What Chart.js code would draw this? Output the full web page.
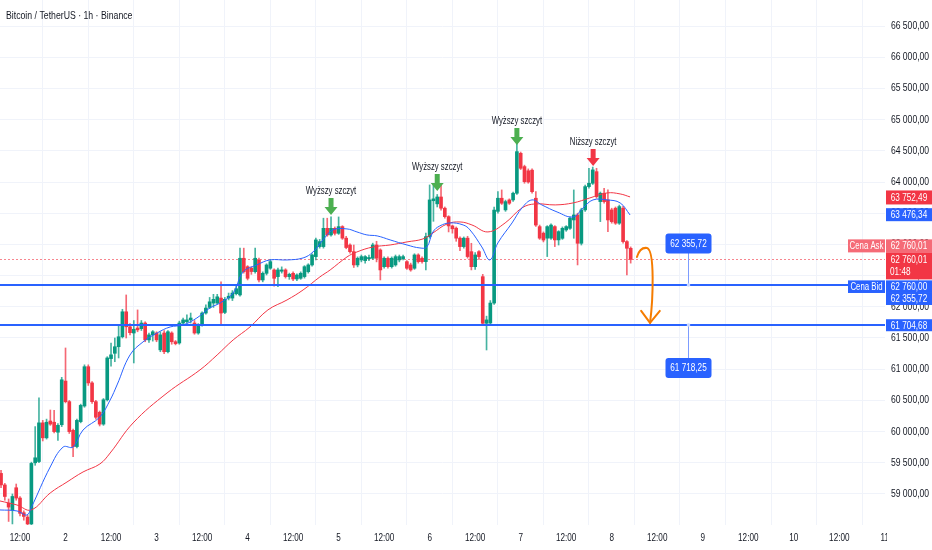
<!DOCTYPE html>
<html lang="pl">
<head>
<meta charset="utf-8">
<title>Bitcoin / TetherUS 1h</title>
<script src="https://cdn.jsdelivr.net/npm/chart.js@4.4.1/dist/chart.umd.min.js"></script>
<style>
  html, body { margin: 0; padding: 0; background: #ffffff; }
  #chart { display: block; }
</style>
</head>
<body>
<canvas id="chart" width="932" height="550"></canvas>
<script>
// Candles: one per hour, first one on day 1 at 07:00 (hours counted from day 1, 00:00)
const startHour = 7;

const opens = [
  59330, 59145, 58850, 58740, 59100, 58935, 58700, 58630, 58520, 59500,
  59520, 60140, 59900, 60170, 60150, 59990, 60110, 60810, 60480, 60020,
  59760, 60160, 60410, 61040, 60780, 60480, 60310, 60120, 60510, 61170,
  61255, 61360, 61520, 61920, 61680, 61580, 61660, 61650, 61740, 61470,
  61550, 61580, 61310, 61580, 61280, 61580, 61440, 61420, 61740, 61760,
  61790, 61740, 61580, 61710, 61900, 61990, 62060, 62060, 62140, 61910,
  62140, 62140, 62210, 62190, 62778, 62643, 62620, 62563, 62751, 62430,
  62537, 62618, 62591, 62484, 62570, 62591, 62484, 62537, 62446, 62457, 62484,
  62563, 62671, 62804, 62965, 62965, 63258, 63152, 63258, 63178, 63285,
  63100, 62990, 62884, 62671, 62751, 62740, 62770, 62778, 62991, 62911,
  62643, 62778, 62643, 62671, 62751, 62770, 62724, 62671, 62618, 62831,
  62778, 62724, 63125, 63700, 63650, 63760, 63580, 63445, 63296, 63260,
  63100, 62965, 63100, 62884, 62643, 62884, 62483, 61736, 61740, 62060,
  63530, 63740, 63553, 63713, 63713, 63820, 64460, 64247, 64180, 64190,
  63740, 63285, 63180, 63100, 63100, 63285, 63072, 63098, 63232, 63258,
  63392, 63472, 63018, 63553, 63926, 63980, 64166, 63686, 63820, 63713,
  63553, 63580, 63340, 63580, 63045, 62938
];
const highs = [
  59380, 59170, 58920, 59000, 59160, 58960, 58730, 58660, 59510, 60080,
  60540, 60180, 60200, 60346, 60340, 60130, 60870, 61340, 60500, 60040,
  60200, 60440, 61070, 61070, 60800, 60500, 60330, 60530, 61200, 61420,
  61500, 61700, 61960, 62190, 61730, 61780, 61950, 61780, 61760, 61580,
  61620, 61600, 61600, 61620, 61620, 61600, 61460, 61770, 61820, 61870,
  61900, 61780, 61730, 61920, 62030, 62150, 62200, 62200, 62400, 62150,
  62220, 62260, 62330, 62940, 62940, 62660, 62640, 62940, 62780, 62560,
  62690, 62760, 62610, 62620, 62640, 62610, 62540, 62560, 62530, 62560, 62660,
  62690, 62850, 63100, 63080, 63420, 63420, 63440, 63280, 63440, 63300,
  63130, 63010, 62990, 62800, 62830, 62820, 62830, 63020, 63050, 62930,
  62800, 62800, 62800, 62830, 62830, 62830, 62740, 62700, 62850, 62850,
  62800, 63180, 63953, 63950, 63800, 63950, 63600, 63460, 63310, 63280,
  63120, 63120, 63130, 63018, 62870, 62900, 62520, 61850, 62100, 63600,
  63846, 63873, 63710, 63730, 63840, 64650, 64480, 64270, 64210, 64210,
  63846, 63310, 63200, 63300, 63330, 63300, 63220, 63280, 63300, 63440,
  63873, 63500, 63580, 63950, 64220, 64240, 64220, 63840, 63900, 63873,
  63580, 63600, 63630, 63610, 63060, 62960
];
const lows = [
  59100, 58900, 58560, 58520, 58900, 58650, 58580, 58480, 58500, 59460,
  59500, 59850, 59880, 60100, 59980, 59860, 60080, 60460, 59970, 59600,
  59740, 60140, 60390, 60740, 60450, 60200, 60090, 60100, 60490, 61050,
  61120, 61180, 61500, 61500, 61550, 61100, 61600, 61620, 61440, 61430,
  61450, 61440, 61280, 61250, 61260, 61400, 61390, 61400, 61720, 61740,
  61740, 61560, 61560, 61690, 61880, 61970, 61990, 62040, 61709, 61890,
  62110, 62100, 62190, 62170, 62540, 62430, 62520, 62540, 62400, 62400,
  62510, 62600, 62330, 62324, 62540, 62460, 62440, 62420, 62420, 62440, 62460,
  62540, 62650, 62750, 62940, 62940, 63130, 63130, 63150, 63160, 63080,
  62930, 62860, 62630, 62640, 62720, 62700, 62740, 62760, 62720, 62430,
  62620, 62620, 62620, 62650, 62720, 62750, 62600, 62570, 62600, 62700,
  62700, 62591, 63100, 63370, 63600, 63550, 63420, 63200, 63180, 63050,
  62900, 62940, 62780, 62591, 62600, 62760, 61700, 61308, 61700, 62040,
  63500, 63640, 63530, 63640, 63690, 63800, 64200, 63980, 63980, 63820,
  63290, 63080, 63040, 62805, 63080, 62965, 62990, 63080, 63210, 63240,
  63098, 62671, 62990, 63530, 63900, 63960, 63740, 63365, 63660, 63205,
  63340, 63320, 63320, 63020, 62510, 62700
];
const closes = [
  59145, 58960, 58790, 58960, 58935, 58690, 58640, 58520, 59490, 59580,
  60140, 59900, 60150, 60120, 60000, 60100, 60830, 60480, 60000, 59760,
  60180, 60420, 61040, 60780, 60480, 60230, 60120, 60510, 61180, 61230,
  61360, 61520, 61920, 61680, 61585, 61640, 61630, 61740, 61470, 61550,
  61600, 61470, 61550, 61280, 61600, 61440, 61410, 61740, 61790, 61790,
  61820, 61580, 61710, 61900, 61980, 62080, 62120, 62160, 61900, 62120,
  62170, 62220, 62290, 62778, 62563, 62457, 62565, 62778, 62430, 62537,
  62671, 62724, 62457, 62591, 62591, 62484, 62520, 62446, 62510, 62537, 62643,
  62671, 62831, 63072, 63045, 63258, 63152, 63258, 63178, 63285, 63100,
  62950, 62884, 62671, 62778, 62804, 62804, 62790, 62991, 62778, 62591,
  62778, 62643, 62778, 62804, 62804, 62804, 62618, 62591, 62831, 62724,
  62724, 63125, 63713, 63730, 63760, 63580, 63445, 63296, 63250, 63100,
  62965, 63100, 62805, 62643, 62831, 62804, 61736, 61790, 62060, 63550,
  63740, 63660, 63686, 63660, 63820, 64487, 64220, 64006, 64000, 63845,
  63310, 63100, 63070, 63285, 63310, 63072, 63205, 63258, 63285, 63419,
  63472, 63018, 63553, 63926, 63980, 64194, 63766, 63820, 63686, 63392,
  63365, 63340, 63606, 63045, 62938, 62760
];

// Moving averages (hour, price)
const fastMaHours = [6.72, 11.19, 13.81, 14.92, 19.96, 23.38, 26.0, 28.62, 33.05, 35.77, 37.58, 41.0, 44.43,
  48.16, 51.58, 55.0, 58.63, 62.05, 64.77, 68.2, 70.82, 74.44, 77.87, 82.4, 86.63, 89.25, 91.86, 94.48, 98.21,
  100.83, 103.45, 106.17, 109.59, 114.02, 117.45, 119.26, 120.87, 122.68, 125.4, 128.83, 130.64, 133.76,
  135.88, 137.99, 141.72, 144.34, 146.96, 149.57, 153.6, 157.83, 160.45, 163.07, 166.8, 170.22, 172.84];
const fastMaValues = [58744, 58728, 58663, 58776, 59433, 59753, 59753, 60026, 60234, 60507, 60747, 61228, 61437,
  61581, 61677, 61709, 61821, 61982, 62062, 62222, 62559, 62671, 62751, 62751, 62783, 62879, 63072, 63232, 63248,
  63200, 63152, 63136, 63072, 62991, 62943, 62959, 63200, 63296, 63344, 63312, 63232, 62959, 62751, 63024, 63344,
  63585, 63713, 63633, 63520, 63440, 63585, 63713, 63713, 63665, 63472];
const slowMaHours = [6.72, 11.19, 14.92, 19.96, 24.39, 28.62, 33.05, 35.77, 41.81, 50.77, 59.44, 63.97, 68.2,
  72.63, 77.36, 82.4, 86.63, 91.06, 93.78, 98.21, 100.83, 105.06, 109.59, 114.02, 118.25, 120.87, 124.6, 128.02,
  131.14, 135.37, 139.9, 144.34, 147.76, 153.1, 157.83, 162.26, 166.8, 170.22, 172.84];
const slowMaValues = [58888, 58824, 58744, 59016, 59192, 59353, 59481, 59657, 60138, 60619, 60988, 61228, 61469,
  61677, 61950, 62110, 62270, 62479, 62591, 62799, 62879, 62959, 62991, 63040, 63088, 63184, 63328, 63360, 63312,
  63200, 63344, 63585, 63649, 63633, 63665, 63745, 63825, 63809, 63761];

// Axis ticks
const timeTicks = [12, 24, 36, 48, 60, 72, 84, 96, 108, 120, 132, 144, 156, 168, 180, 192, 204, 216, 228, 240];
const priceTicks = [59000, 59500, 60000, 60500, 61000, 61500, 62000, 62500, 63000, 63500, 64000, 64500, 65000, 65500, 66000, 66500];

// Price levels and labels
const titleText = 'Bitcoin / TetherUS · 1h · Binance';
const lastFastMa = 63476.34;
const lastSlowMa = 63752.49;
const askPrice = 62760.01;
const bidPrice = 62760.00;
const countdown = '01:48';
const levelPrices = [62355.72, 61704.68];
const peakTexts = ['Wyższy szczyt', 'Wyższy szczyt', 'Wyższy szczyt', 'Niższy szczyt'];
const peakHours = [94.0, 122.0, 143.0, 163.1];
const peakPrices = [63470, 63857, 64594, 64258];
const peakIsHigher = [true, true, true, false];
const noteHour = 188.1;
const noteValues = [62355.72, 61718.25];
const noteBoxPrices = [63016, 61020];
const noteLinePrices = [62355.72, 61704.68];
// orange curved arrow path (hour, price)
const curveHours = [174.65, 175.46, 177.29, 179.41, 178.9, 178.1];
const curvePrices = [62799, 62959, 62943, 62911, 62110, 61741];
const curveWingHours = [175.76, 180.69];
const curveWingPrice = 61934;

const UP = '#089981';
const DOWN = '#f23645';
const BLUE = '#2962ff';
const TEXT = '#131722';
const GRID = '#f0f3fa';
const FONT = '"Liberation Sans", Arial, sans-serif';

// Draw narrow text (the screenshot is horizontally compressed)
function squeezedText(ctx, str, x, y, size, color, align, squeeze) {
  ctx.save();
  ctx.font = size + 'px ' + FONT;
  ctx.fillStyle = color;
  ctx.textBaseline = 'middle';
  ctx.textAlign = align || 'left';
  ctx.translate(x, y);
  ctx.scale(squeeze || 0.8, 1);
  ctx.fillText(str, 0, 0);
  ctx.restore();
}

function formatPrice(v) {
  const parts = v.toFixed(2).split('.');
  return parts[0].replace(/\B(?=(\d{3})+(?!\d))/g, ' ') + ',' + parts[1];
}

function axisTag(ctx, left, top, width, height, fill, text, size) {
  ctx.fillStyle = fill;
  ctx.fillRect(left, top, width, height);
  squeezedText(ctx, text, left + width / 2, top + height / 2 + 0.5, size || 10.5, '#ffffff', 'center', 0.78);
}

function downArrow(ctx, cx, tipY, color) {
  ctx.fillStyle = color;
  ctx.beginPath();
  ctx.moveTo(cx - 2.5, tipY - 17);
  ctx.lineTo(cx + 2.5, tipY - 17);
  ctx.lineTo(cx + 2.5, tipY - 8);
  ctx.lineTo(cx + 6.5, tipY - 8);
  ctx.lineTo(cx, tipY);
  ctx.lineTo(cx - 6.5, tipY - 8);
  ctx.lineTo(cx - 2.5, tipY - 8);
  ctx.closePath();
  ctx.fill();
}

const candleColors = closes.map((c, i) => (c >= opens[i] ? UP : DOWN));
const wickColors = closes.map((c, i) => (c >= opens[i] ? 'rgba(8,153,129,0.75)' : 'rgba(242,54,69,0.75)'));

const overlay = {
  id: 'overlay',
  beforeDatasetsDraw(chart) {
    const { ctx, chartArea: a, scales: { y } } = chart;
    const py = Math.round(y.getPixelForValue(askPrice)) + 0.5;
    ctx.save();
    ctx.strokeStyle = 'rgba(242,54,69,0.6)';
    ctx.lineWidth = 1;
    ctx.setLineDash([2, 2]);
    ctx.beginPath();
    ctx.moveTo(a.left, py);
    ctx.lineTo(a.right, py);
    ctx.stroke();
    ctx.restore();
  },
  afterDatasetsDraw(chart) {
    const { ctx, chartArea: a, scales: { y } } = chart;
    ctx.save();
    ctx.strokeStyle = BLUE;
    ctx.lineWidth = 2;
    levelPrices.forEach(p => {
      const py = Math.round(y.getPixelForValue(p));
      ctx.beginPath();
      ctx.moveTo(a.left, py);
      ctx.lineTo(a.right, py);
      ctx.stroke();
    });
    ctx.restore();
  },
  afterDraw(chart) {
    const { ctx, chartArea: a, scales: { x, y } } = chart;
    const axisLeft = a.right + 1;
    const axisW = chart.width - axisLeft;
    const axisMid = axisLeft + axisW / 2;

    // title
    squeezedText(ctx, titleText, 6, 16, 10.5, TEXT, 'left', 0.83);

    // price axis labels
    y.ticks.forEach(t => {
      const py = y.getPixelForValue(t.value);
      if (py < 6 || py > a.bottom - 6) return;
      squeezedText(ctx, formatPrice(t.value), axisMid + 1, py, 11, TEXT, 'center', 0.78);
    });

    // time axis labels
    ctx.save();
    ctx.beginPath();
    ctx.rect(0, a.bottom, a.right + 2, chart.height - a.bottom);
    ctx.clip();
    timeTicks.forEach(h => {
      const px = x.getPixelForValue(h);
      const label = h % 24 === 12 ? '12:00' : String(h / 24 + 1);
      squeezedText(ctx, label, px, a.bottom + 13, 11, TEXT, 'center', 0.74);
    });
    ctx.restore();

    // peaks
    peakTexts.forEach((txt, i) => {
      const px = x.getPixelForValue(peakHours[i]);
      const py = y.getPixelForValue(peakPrices[i]);
      downArrow(ctx, px, py, peakIsHigher[i] ? '#4caf50' : DOWN);
      squeezedText(ctx, txt, px, py - 24, 10.5, TEXT, 'center', 0.74);
    });

    // orange projection arrow
    const cp = curveHours.map((h, i) => [x.getPixelForValue(h), y.getPixelForValue(curvePrices[i])]);
    ctx.save();
    ctx.strokeStyle = '#f57c00';
    ctx.lineWidth = 2;
    ctx.lineCap = 'round';
    ctx.lineJoin = 'round';
    ctx.beginPath();
    ctx.moveTo(cp[0][0], cp[0][1]);
    ctx.quadraticCurveTo(cp[1][0], cp[1][1], cp[2][0], cp[2][1]);
    ctx.bezierCurveTo(cp[3][0], cp[3][1], cp[4][0], cp[4][1], cp[5][0], cp[5][1]);
    ctx.stroke();
    const wy = y.getPixelForValue(curveWingPrice);
    ctx.beginPath();
    ctx.moveTo(x.getPixelForValue(curveWingHours[0]), wy);
    ctx.lineTo(cp[5][0], cp[5][1]);
    ctx.lineTo(x.getPixelForValue(curveWingHours[1]), wy);
    ctx.stroke();
    ctx.restore();

    // price notes
    const nx = Math.round(x.getPixelForValue(noteHour)) + 0.5;
    noteValues.forEach((v, i) => {
      const by = y.getPixelForValue(noteBoxPrices[i]);
      const ly = y.getPixelForValue(noteLinePrices[i]);
      ctx.save();
      ctx.strokeStyle = '#7d9cff';
      ctx.lineWidth = 1;
      ctx.beginPath();
      ctx.moveTo(nx, by);
      ctx.lineTo(nx, ly);
      ctx.stroke();
      ctx.fillStyle = '#c7d5ff';
      ctx.beginPath();
      ctx.arc(nx, Math.round(ly), 1.8, 0, Math.PI * 2);
      ctx.fill();
      ctx.fillStyle = BLUE;
      ctx.beginPath();
      ctx.roundRect(nx - 23, by - 10, 46, 20, 3);
      ctx.fill();
      ctx.restore();
      squeezedText(ctx, formatPrice(v), nx, by + 0.5, 10.5, '#ffffff', 'center', 0.78);
    });

    // price axis tags
    const slowY = y.getPixelForValue(lastSlowMa);
    axisTag(ctx, axisLeft, slowY - 7, axisW, 14, DOWN, formatPrice(lastSlowMa));
    const fastY = y.getPixelForValue(lastFastMa);
    axisTag(ctx, axisLeft, fastY - 6.5, axisW, 13, BLUE, formatPrice(lastFastMa));

    const askY = y.getPixelForValue(askPrice);
    const lightRed = '#f56b77';
    axisTag(ctx, axisLeft, askY - 20, axisW, 13, lightRed, formatPrice(askPrice));
    axisTag(ctx, axisLeft - 38, askY - 20, 37, 13, lightRed, 'Cena Ask', 10);
    ctx.fillStyle = DOWN;
    ctx.fillRect(axisLeft, askY - 7, axisW, 27);
    squeezedText(ctx, formatPrice(askPrice), axisMid, askY + 0.5, 10.5, '#ffffff', 'center', 0.78);
    squeezedText(ctx, countdown, axisLeft + 4, askY + 13, 10.5, '#ffffff', 'left', 0.78);

    const bidTop = askY + 21;
    axisTag(ctx, axisLeft, bidTop, axisW, 12.6, BLUE, formatPrice(bidPrice));
    axisTag(ctx, axisLeft - 38, bidTop, 37, 12.6, BLUE, 'Cena Bid', 10);
    axisTag(ctx, axisLeft, bidTop + 12.6, axisW, 12, BLUE, formatPrice(levelPrices[0]));
    const lvlY = y.getPixelForValue(levelPrices[1]);
    axisTag(ctx, axisLeft, lvlY - 6, axisW, 12, BLUE, formatPrice(levelPrices[1]));
  }
};

const wickData = highs.map((h, i) => ({ x: startHour + i, y: [lows[i], h] }));
const bodyData = opens.map((o, i) => ({ x: startHour + i, y: [o, closes[i]] }));
const fastMaData = fastMaHours.map((h, i) => ({ x: h, y: fastMaValues[i] }));
const slowMaData = slowMaHours.map((h, i) => ({ x: h, y: slowMaValues[i] }));

const ctx = document.getElementById('chart').getContext('2d');
const chart = new Chart(ctx, {
  type: 'bar',
  data: {
    datasets: [
      {
        type: 'line', data: fastMaData, borderColor: BLUE, borderWidth: 1,
        pointRadius: 0, tension: 0.4, order: 0
      },
      {
        type: 'line', data: slowMaData, borderColor: DOWN, borderWidth: 1,
        pointRadius: 0, tension: 0.4, order: 1
      },
      {
        data: bodyData, backgroundColor: candleColors, barThickness: 3,
        minBarLength: 1, grouped: false, order: 2
      },
      {
        data: wickData, backgroundColor: wickColors, barThickness: 1,
        grouped: false, order: 3
      }
    ]
  },
  options: {
    responsive: false,
    animation: false,
    layout: { padding: 0 },
    plugins: {
      legend: { display: false },
      tooltip: { enabled: false }
    },
    scales: {
      x: {
        type: 'linear',
        min: 6.727,
        max: 240.05,
        offset: false,
        grid: { color: GRID, drawTicks: false },
        border: { display: false },
        ticks: { display: false },
        afterBuildTicks: axis => { axis.ticks = timeTicks.filter(h => h <= axis.max).map(v => ({ value: v })); },
        afterFit: axis => { axis.height = 25; }
      },
      y: {
        position: 'right',
        min: 58503,
        max: 66917,
        grid: { color: GRID, drawTicks: false },
        border: { display: false },
        ticks: { display: false },
        afterBuildTicks: axis => { axis.ticks = priceTicks.map(v => ({ value: v })); },
        afterFit: axis => { axis.width = 47; }
      }
    }
  },
  plugins: [overlay]
});
</script>
</body>
</html>
